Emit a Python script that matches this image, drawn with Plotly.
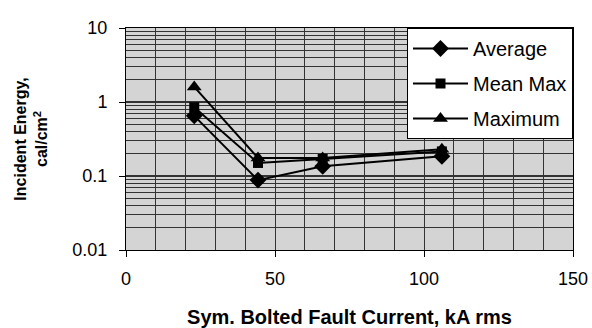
import plotly.graph_objects as go

fault_current = [22.9, 44.3, 66.0, 106.0]
average = [0.65, 0.088, 0.135, 0.185]
mean_max = [0.85, 0.15, 0.17, 0.215]
maximum = [1.6, 0.175, 0.175, 0.23]

series = [
    ("Average", average, "diamond", 13),
    ("Mean Max", mean_max, "square", 10),
    ("Maximum", maximum, "triangle-up", 13),
]

x_ticks = [0, 50, 100, 150]
y_ticks = [0.01, 0.1, 1, 10]
y_tick_text = ["0.01", "0.1", "1", "10"]
y_minor = [m * 10 ** e for e in (-2, -1, 0) for m in range(2, 10)]
x_minor = list(range(0, 151, 10))

fig = go.Figure()
for i, (name, vals, sym, sz) in enumerate(series):
    fig.add_trace(go.Scatter(
        x=fault_current, y=vals, name=name, mode="lines+markers",
        line=dict(color="black", width=2),
        marker=dict(symbol=sym, size=sz, color="black"),
        legendgroup=f"g{i}",
    ))

font = "Liberation Sans, Arial, sans-serif"
fig.update_layout(
    width=592, height=328,
    margin=dict(l=126, r=19, t=28, b=78, autoexpand=False),
    paper_bgcolor="white",
    plot_bgcolor="#d4d4d4",
    font=dict(family=font, color="black", size=18),
    showlegend=True,
    legend=dict(
        x=1, y=1, xanchor="right", yanchor="top",
        bgcolor="white", bordercolor="black", borderwidth=1,
        font=dict(size=20), tracegroupgap=6, itemwidth=55,
    ),
    xaxis=dict(
        range=[0, 150], tickmode="array", tickvals=x_ticks,
        ticks="outside", ticklen=6, tickcolor="black",
        ticklabelstandoff=6, automargin=False,
        showline=True, linecolor="black", linewidth=1, mirror=True,
        showgrid=True, gridcolor="#333333", gridwidth=1,
        minor=dict(tickmode="array", tickvals=x_minor, showgrid=True,
                   gridcolor="#333333", gridwidth=1, ticks=""),
        zeroline=False,
        title=dict(text="<b>Sym. Bolted Fault Current, kA rms</b>",
                   font=dict(size=20), standoff=22),
        tickfont=dict(size=18),
    ),
    yaxis=dict(
        type="log", range=[-2, 1], tickmode="array",
        tickvals=y_ticks, ticktext=y_tick_text,
        ticks="outside", ticklen=6, tickcolor="black",
        ticklabelstandoff=8, automargin=False,
        showline=True, linecolor="black", linewidth=1, mirror=True,
        showgrid=True, gridcolor="#333333", gridwidth=1.5,
        minor=dict(tickmode="array", tickvals=y_minor, showgrid=True,
                   gridcolor="#333333", gridwidth=1, ticks=""),
        zeroline=False,
        title=dict(text="<b>Incident Energy,<br>cal/cm<sup>2</sup></b>",
                   font=dict(size=16), standoff=20),
        tickfont=dict(size=18),
    ),
)

fig.write_html("out.html")
